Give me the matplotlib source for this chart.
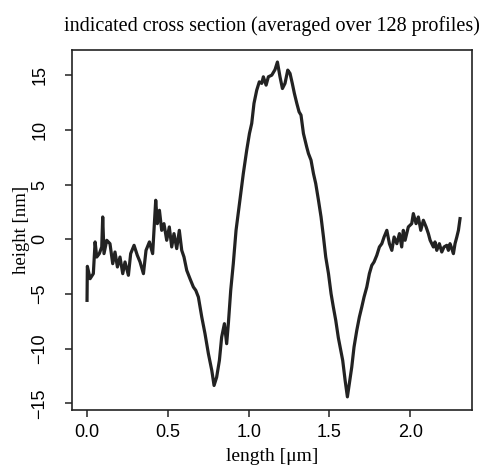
import matplotlib
matplotlib.use("Agg")
import matplotlib.pyplot as plt

title = "indicated cross section (averaged over 128 profiles)"
x_label = "length [\u03bcm]"
y_label = "height [nm]"
x_ticks = [0.0, 0.5, 1.0, 1.5, 2.0]
x_tick_labels = ["0.0", "0.5", "1.0", "1.5", "2.0"]
y_ticks = [-15, -10, -5, 0, 5, 10, 15]
y_tick_labels = ["\u221215", "\u221210", "\u22125", "0", "5", "10", "15"]

length_um = [
    0.000, 0.002, 0.019, 0.039, 0.050, 0.060, 0.076, 0.091, 0.097, 0.105,
    0.122, 0.142, 0.159, 0.173, 0.188, 0.204, 0.221, 0.235, 0.256, 0.270,
    0.291, 0.311, 0.328, 0.349, 0.365, 0.386, 0.406, 0.425, 0.435, 0.448,
    0.462, 0.476, 0.493, 0.509, 0.524, 0.538, 0.555, 0.571, 0.586, 0.600,
    0.617, 0.637, 0.658, 0.673, 0.689, 0.710, 0.730, 0.751, 0.772, 0.786,
    0.802, 0.819, 0.833, 0.850, 0.864, 0.875, 0.889, 0.905, 0.922, 0.943,
    0.967, 0.988, 1.005, 1.019, 1.033, 1.050, 1.066, 1.081, 1.091, 1.108,
    1.122, 1.143, 1.163, 1.178, 1.194, 1.209, 1.225, 1.242, 1.256, 1.270,
    1.283, 1.298, 1.312, 1.324, 1.339, 1.359, 1.370, 1.386, 1.401, 1.415,
    1.432, 1.448, 1.463, 1.477, 1.494, 1.510, 1.524, 1.539, 1.555, 1.568,
    1.582, 1.597, 1.611, 1.623, 1.638, 1.652, 1.669, 1.685, 1.700, 1.714,
    1.731, 1.747, 1.762, 1.776, 1.793, 1.809, 1.824, 1.838, 1.855, 1.871,
    1.886, 1.900, 1.917, 1.933, 1.947, 1.957, 1.968, 1.988, 2.009, 2.019,
    2.036, 2.050, 2.065, 2.081, 2.098, 2.112, 2.123, 2.133, 2.143, 2.153,
    2.164, 2.180, 2.195, 2.209, 2.226, 2.236, 2.246, 2.257, 2.267, 2.277,
    2.288, 2.298, 2.308,
]
height_nm = [
    -5.58, -2.47, -3.60, -3.14, -0.24, -1.62, -1.31, -0.70, 2.04, -1.31,
    -0.09, -0.40, -2.23, -1.16, -2.53, -1.62, -3.14, -2.07, -3.29, -1.31,
    -0.55, -1.46, -2.07, -3.14, -1.01, -0.24, -1.31, 3.57, 1.43, 2.65,
    0.82, 1.43, -0.09, 1.13, -0.70, 0.52, -0.85, 0.82, -1.01, -1.62,
    -2.84, -3.60, -4.36, -4.67, -5.28, -7.11, -8.63, -10.46, -11.99, -13.36,
    -12.60, -11.07, -8.94, -7.71, -9.54, -7.60, -4.67, -2.23, 0.82, 3.27,
    6.01, 8.14, 9.67, 10.59, 12.42, 13.63, 14.39, 14.25, 14.85, 14.09,
    14.85, 15.00, 15.50, 16.20, 14.85, 13.78, 14.25, 15.46, 15.16, 14.25,
    13.33, 12.42, 11.65, 11.35, 9.67, 8.45, 7.84, 7.23, 6.01, 5.10,
    3.57, 2.04, 0.21, -1.62, -3.14, -4.97, -6.19, -7.41, -9.00, -10.00,
    -11.07, -12.90, -14.40, -13.20, -11.68, -9.85, -8.33, -7.11, -6.19, -5.28,
    -4.36, -3.14, -2.38, -2.07, -1.46, -0.70, -0.40, 0.21, 0.82, -0.40,
    -1.01, 0.21, -0.40, 0.52, -0.70, 0.82, -0.09, 1.13, 1.43, 2.35,
    1.43, 2.04, 0.82, 1.74, 1.13, 0.52, -0.09, -0.40, -0.70, -0.24,
    -1.01, -0.40, -1.16, -0.70, -0.55, -1.01, -0.40, -0.85, -1.31, -0.40,
    0.21, 0.82, 1.89,
]

serif = ["Liberation Serif", "DejaVu Serif"]
sans = ["Liberation Sans", "DejaVu Sans"]

fig = plt.figure(figsize=(4.89, 4.72), dpi=100)
ax = fig.add_axes([72 / 489, 1 - 410 / 472, 400 / 489, 360 / 472])

ax.plot(length_um, height_nm, color="#222222", lw=2.3, solid_joinstyle="round")

ax.set_xlim(-0.093, 2.382)
ax.set_ylim(-15.6, 17.3)

ax.set_xticks(x_ticks)
ax.set_xticklabels(x_tick_labels, family=sans, fontsize=13)
ax.set_yticks(y_ticks)
ax.set_yticklabels(y_tick_labels, family=sans, fontsize=13, rotation=90, va="center")

ax.tick_params(axis="both", direction="out", length=5, width=1.1, color="#222222")
ax.tick_params(axis="x", pad=5)
ax.tick_params(axis="y", pad=12)

for s in ax.spines.values():
    s.set_linewidth(1.2)
    s.set_color("#222222")

ax.set_xlabel(x_label, family=serif, fontsize=14)
ax.xaxis.set_label_coords(0.5, -0.105)
ax.set_ylabel(y_label, family=serif, fontsize=13.5)
ax.yaxis.set_label_coords(-0.105, 0.5)

ax.set_title(title, family=serif, fontsize=14.5, pad=14)

fig.savefig("out.png", dpi=100)
